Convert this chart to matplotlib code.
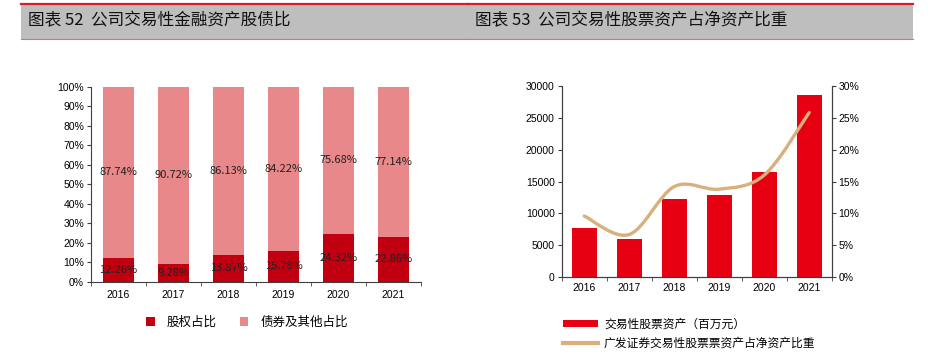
import matplotlib
matplotlib.use('Agg')
import matplotlib.pyplot as plt
import matplotlib.patches as patches
from matplotlib.path import Path
from matplotlib.lines import Line2D
import numpy as np

plt.rcParams['font.family'] = ['Liberation Sans', 'Noto Sans CJK SC']

# data
years = ['2016', '2017', '2018', '2019', '2020', '2021']
equity_share = [12.26, 9.28, 13.87, 15.78, 24.32, 22.86]
bond_share = [87.74, 90.72, 86.13, 84.22, 75.68, 77.14]
stock_assets = [7700, 6000, 12300, 12900, 16500, 28500]   # 百万元
stock_ratio = [9.6, 6.7, 14.2, 13.8, 16.0, 25.8]         # %

title_left = '图表 52  公司交易性金融资产股债比'
title_right = '图表 53  公司交易性股票资产占净资产比重'
cjk = ['Noto Sans CJK SC', 'DejaVu Sans']

dark_red = '#C00010'
pink = '#E8888A'
bright_red = '#E60012'
tan = '#D9B07C'
axis_col = '#404040'

fig = plt.figure(figsize=(9.36, 3.58), dpi=100)
W, H = 936, 358

# --- title bars ---
for x0, x1, txt in [(21, 468, title_left), (468, 913, title_right)]:
    fig.add_artist(patches.Rectangle((x0 / W, 1 - 39 / H), (x1 - x0) / W, 35 / H,
                                     transform=fig.transFigure, facecolor='#BEBEBE',
                                     edgecolor='none'))
    fig.add_artist(Line2D([x0 / W, x1 / W], [1 - 4 / H, 1 - 4 / H], transform=fig.transFigure,
                          color='#D0202A', lw=1.6))
    fig.add_artist(Line2D([x0 / W, x1 / W], [1 - 39 / H, 1 - 39 / H], transform=fig.transFigure,
                          color='#E07070', lw=0.8))
    fig.text((x0 + 7) / W, 1 - 21 / H, txt, family=cjk, fontsize=12, va='center',
             ha='left', color='#111111')

x = np.arange(len(years))

# --- left: stacked shares ---
ax1 = fig.add_axes([91 / W, 1 - 281.7 / H, 330 / W, 195 / H])
b1 = ax1.bar(x, equity_share, width=0.56, color=dark_red, label='股权占比')
b2 = ax1.bar(x, bond_share, width=0.56, bottom=equity_share, color=pink, label='债券及其他占比')
for i in range(len(years)):
    ax1.text(x[i], equity_share[i] / 2, f'{equity_share[i]:.2f}%', ha='center', va='center',
             fontsize=8, family=cjk, color='#222222')
    ax1.text(x[i], equity_share[i] + bond_share[i] / 2, f'{bond_share[i]:.2f}%', ha='center',
             va='center', fontsize=8, family=cjk, color='#222222')
ax1.set_xlim(-0.5, len(years) - 0.5)
ax1.set_ylim(0, 100)
ax1.set_yticks(np.arange(0, 101, 10))
ax1.set_yticklabels([f'{v}%' for v in range(0, 101, 10)])
ax1.set_xticks(x)
ax1.set_xticklabels(years)
ax1.set_xticks(np.arange(-0.5, len(years)), minor=True)
ax1.tick_params(axis='x', which='major', length=0, pad=6, labelsize=7.5)
ax1.tick_params(axis='x', which='minor', length=3, direction='out', color=axis_col)
ax1.tick_params(axis='y', length=3, direction='out', labelsize=7.5, color=axis_col, pad=2)
for s in ['top', 'right']:
    ax1.spines[s].set_visible(False)
for s in ['left', 'bottom']:
    ax1.spines[s].set_color(axis_col)
fig.legend(handles=[b1, b2], loc='center', bbox_to_anchor=(247 / W, 1 - 322 / H), ncol=2,
           frameon=False, handlelength=0.7, handleheight=0.7, columnspacing=1.8,
           handletextpad=1.0, prop={'family': cjk, 'size': 9})

# --- right: stock assets + ratio ---
ax2 = fig.add_axes([561.7 / W, 1 - 277.3 / H, 270 / W, 191.6 / H])
bars = ax2.bar(x, stock_assets, width=0.55, color=bright_red, label='交易性股票资产（百万元）')
ax2.set_xlim(-0.5, len(years) - 0.5)
ax2.set_ylim(0, 30000)
ax2.set_yticks(np.arange(0, 30001, 5000))
ax2.set_xticks(x)
ax2.set_xticklabels(years)
ax2.set_xticks(np.arange(-0.5, len(years)), minor=True)
ax2.tick_params(axis='x', which='major', length=0, pad=4, labelsize=7.5)
ax2.tick_params(axis='x', which='minor', length=3, direction='out', color=axis_col)
ax2.tick_params(axis='y', length=3, direction='out', labelsize=7.5, color=axis_col, pad=2)
ax2.spines['top'].set_visible(False)

ax3 = ax2.twinx()
ax3.set_ylim(0, 30)
ax3.set_yticks(np.arange(0, 31, 5))
ax3.set_yticklabels([f'{v}%' for v in range(0, 31, 5)])
ax3.tick_params(axis='y', length=3, direction='out', labelsize=7.5, color=axis_col, pad=2)
ax3.spines['top'].set_visible(False)
for a in (ax2, ax3):
    for s in ['left', 'right', 'bottom']:
        a.spines[s].set_color(axis_col)

# smooth curve (Catmull-Rom as cubic Bezier) through the ratio points
pts = np.column_stack([x, stock_ratio]).astype(float)
ext = np.vstack([pts[0], pts, pts[-1]])
verts = [tuple(pts[0])]
codes = [Path.MOVETO]
for i in range(len(pts) - 1):
    p0, p1, p2, p3 = ext[i], ext[i + 1], ext[i + 2], ext[i + 3]
    c1 = p1 + (p2 - p0) / 6
    c2 = p2 - (p3 - p1) / 6
    verts += [tuple(c1), tuple(c2), tuple(p2)]
    codes += [Path.CURVE4] * 3
ax3.add_patch(patches.PathPatch(Path(verts, codes), facecolor='none', edgecolor=tan,
                                lw=2.4, capstyle='round'))

line_handle = Line2D([], [], color=tan, lw=3)
fig.legend(handles=[bars, line_handle],
           labels=['交易性股票资产（百万元）', '广发证券交易性股票票资产占净资产比重'],
           loc='upper left', bbox_to_anchor=(552 / W, 1 - 307 / H), ncol=1, frameon=False,
           handlelength=3.0, handleheight=0.45, handletextpad=0.5, labelspacing=0.5,
           prop={'family': cjk, 'size': 8.5})

fig.savefig('out.png', dpi=100)
